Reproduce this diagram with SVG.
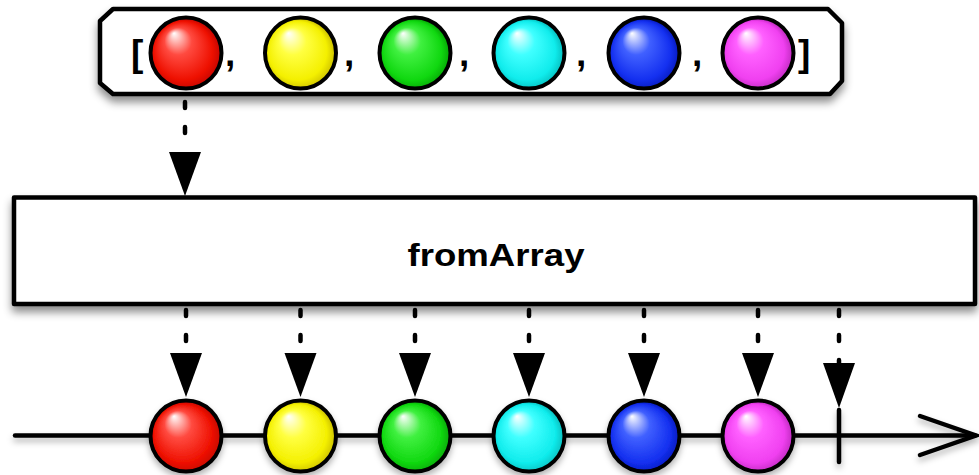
<svg xmlns="http://www.w3.org/2000/svg" width="979" height="475" viewBox="0 0 979 475">
<style>
.box{fill:#fff;stroke:#000;stroke-width:4.5;stroke-linejoin:round}
.ball{stroke:#000;stroke-width:4}
.punct{font-family:"Liberation Sans",Arial,sans-serif;font-weight:bold;font-size:37px;fill:#000}
.label{font-family:"Liberation Sans",Arial,sans-serif;font-weight:bold;font-size:32px;fill:#000}
.dash{stroke:#000;stroke-width:4.5;stroke-linecap:round;stroke-dasharray:6 19;fill:none}
.head{fill:#000}
.line{stroke:#000;stroke-width:4.5;fill:none;stroke-linecap:round}
</style>
<defs>
<filter id="sh" x="-10%" y="-20%" width="120%" height="160%">
<feDropShadow dx="0" dy="6" stdDeviation="4" flood-color="#000" flood-opacity="0.45"/>
</filter>
<filter id="shs" x="-20%" y="-20%" width="140%" height="160%">
<feDropShadow dx="0" dy="4" stdDeviation="3" flood-color="#000" flood-opacity="0.3"/>
</filter>
<radialGradient id="gr" cx="0.5" cy="0.55" r="0.55" fx="0.33" fy="0.22"><stop offset="0" stop-color="#fff"/><stop offset="0.35" stop-color="#ff4a40"/><stop offset="0.75" stop-color="#ee1000"/><stop offset="1" stop-color="#b00000"/></radialGradient>
<radialGradient id="gy" cx="0.5" cy="0.55" r="0.55" fx="0.33" fy="0.22"><stop offset="0" stop-color="#fff"/><stop offset="0.35" stop-color="#ffff40"/><stop offset="0.75" stop-color="#f4f000"/><stop offset="1" stop-color="#b8a800"/></radialGradient>
<radialGradient id="gg" cx="0.5" cy="0.55" r="0.55" fx="0.33" fy="0.22"><stop offset="0" stop-color="#fff"/><stop offset="0.35" stop-color="#40f040"/><stop offset="0.75" stop-color="#10d810"/><stop offset="1" stop-color="#009000"/></radialGradient>
<radialGradient id="gc" cx="0.5" cy="0.55" r="0.55" fx="0.33" fy="0.22"><stop offset="0" stop-color="#fff"/><stop offset="0.35" stop-color="#40ffff"/><stop offset="0.75" stop-color="#10ecec"/><stop offset="1" stop-color="#00a8a8"/></radialGradient>
<radialGradient id="gb" cx="0.5" cy="0.55" r="0.55" fx="0.33" fy="0.22"><stop offset="0" stop-color="#fff"/><stop offset="0.35" stop-color="#4060ff"/><stop offset="0.75" stop-color="#1430f0"/><stop offset="1" stop-color="#0010a8"/></radialGradient>
<radialGradient id="gm" cx="0.5" cy="0.55" r="0.55" fx="0.33" fy="0.22"><stop offset="0" stop-color="#fff"/><stop offset="0.35" stop-color="#ff60ff"/><stop offset="0.75" stop-color="#f040f0"/><stop offset="1" stop-color="#a820a8"/></radialGradient>
</defs>

<g id="source">
<polygon class="box" filter="url(#sh)" points="113,9 828,9 842,23 842,81 830,94 113,94 100,83 100,21"/>
<text class="punct" x="131" y="66">[</text>
<circle class="ball" cx="186" cy="53" r="35.5" fill="url(#gr)"/>
<text class="punct" x="225" y="66">,</text>
<circle class="ball" cx="300.5" cy="53" r="35.5" fill="url(#gy)"/>
<text class="punct" x="344" y="66">,</text>
<circle class="ball" cx="415" cy="53" r="35.5" fill="url(#gg)"/>
<text class="punct" x="459" y="66">,</text>
<circle class="ball" cx="529" cy="53" r="35.5" fill="url(#gc)"/>
<text class="punct" x="576" y="66">,</text>
<circle class="ball" cx="644" cy="53" r="35.5" fill="url(#gb)"/>
<text class="punct" x="692" y="66">,</text>
<circle class="ball" cx="758" cy="53" r="35.5" fill="url(#gm)"/>
<text class="punct" x="798" y="66">]</text>
</g>

<g id="fromArray">
<rect class="box" filter="url(#sh)" x="14" y="197.5" width="961" height="106.5"/>
<text class="label" x="496" y="266" text-anchor="middle" textLength="177" lengthAdjust="spacingAndGlyphs">fromArray</text>
</g>

<g id="connectors">
<line class="dash" x1="185" y1="102" x2="185" y2="152"/>
<polygon class="head" points="169,152 201,152 185,196"/>
<line class="dash" x1="186" y1="310" x2="186" y2="353"/>
<polygon class="head" points="170,353 202,353 186,397"/>
<line class="dash" x1="300.5" y1="310" x2="300.5" y2="353"/>
<polygon class="head" points="284.5,353 316.5,353 300.5,397"/>
<line class="dash" x1="415" y1="310" x2="415" y2="353"/>
<polygon class="head" points="399,353 431,353 415,397"/>
<line class="dash" x1="529" y1="310" x2="529" y2="353"/>
<polygon class="head" points="513,353 545,353 529,397"/>
<line class="dash" x1="644" y1="310" x2="644" y2="353"/>
<polygon class="head" points="628,353 660,353 644,397"/>
<line class="dash" x1="758" y1="310" x2="758" y2="353"/>
<polygon class="head" points="742,353 774,353 758,397"/>
<line class="dash" x1="839" y1="310" x2="839" y2="363"/>
<polygon class="head" points="823,363 855,363 839,408"/>
</g>

<g id="output">
<g filter="url(#shs)">
<line class="line" x1="15" y1="435.5" x2="975" y2="435.5"/>
<polyline class="line" points="920,416 976,435.5 920,455"/>
<line class="line" x1="839" y1="410" x2="839" y2="462"/>
</g>
<circle class="ball" cx="186" cy="436" r="35.5" fill="url(#gr)" filter="url(#shs)"/>
<circle class="ball" cx="300.5" cy="436" r="35.5" fill="url(#gy)" filter="url(#shs)"/>
<circle class="ball" cx="415" cy="436" r="35.5" fill="url(#gg)" filter="url(#shs)"/>
<circle class="ball" cx="529" cy="436" r="35.5" fill="url(#gc)" filter="url(#shs)"/>
<circle class="ball" cx="644" cy="436" r="35.5" fill="url(#gb)" filter="url(#shs)"/>
<circle class="ball" cx="758" cy="436" r="35.5" fill="url(#gm)" filter="url(#shs)"/>
</g>
</svg>
